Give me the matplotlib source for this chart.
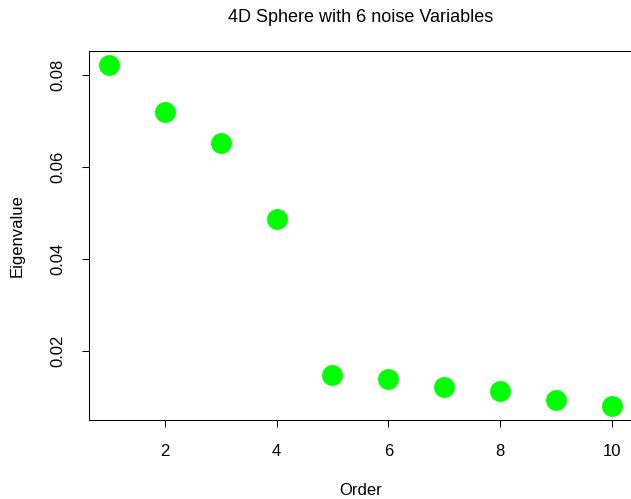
import matplotlib
matplotlib.use("Agg")
import matplotlib.pyplot as plt

plt.rcParams['font.family'] = ['Liberation Sans', 'DejaVu Sans']

# eigenvalues
order = [1, 2, 3, 4, 5, 6, 7, 8, 9, 10]
eigenvalue = [0.0823, 0.0720, 0.0652, 0.0486, 0.0147, 0.0138, 0.0121, 0.0113, 0.0092, 0.0079]
x_ticks = [2, 4, 6, 8, 10]
y_ticks = [0.02, 0.04, 0.06, 0.08]

fig = plt.figure(figsize=(6.31, 4.99), dpi=100)
ax = fig.add_axes([0.1406, 0.1583, 0.8610, 0.7395])

ax.plot(order, eigenvalue, 'o', color='#00ff00', markersize=15, markeredgewidth=0)

ax.set_xlim(0.64, 10.36)
ax.set_ylim(0.00493, 0.08527)
ax.set_xticks(x_ticks)
ax.set_xticklabels([str(t) for t in x_ticks])
ax.set_yticks(y_ticks)
ax.set_yticklabels(["%.2f" % t for t in y_ticks], rotation=90, va='center')
ax.tick_params(length=5, width=0.75, labelsize=12, pad=12)
for s in ax.spines.values():
    s.set_linewidth(0.75)
# the box runs past the right edge of the image
ax.spines['right'].set_visible(False)

ax.set_title("4D Sphere with 6 noise Variables", fontsize=13, pad=21)
ax.set_xlabel("Order", fontsize=12, va='center')
ax.set_ylabel("Eigenvalue", fontsize=12, va='center')
ax.xaxis.set_label_coords(0.5, -0.192)
ax.yaxis.set_label_coords(-0.1326, 0.5)

fig.savefig("out.png", dpi=100)
